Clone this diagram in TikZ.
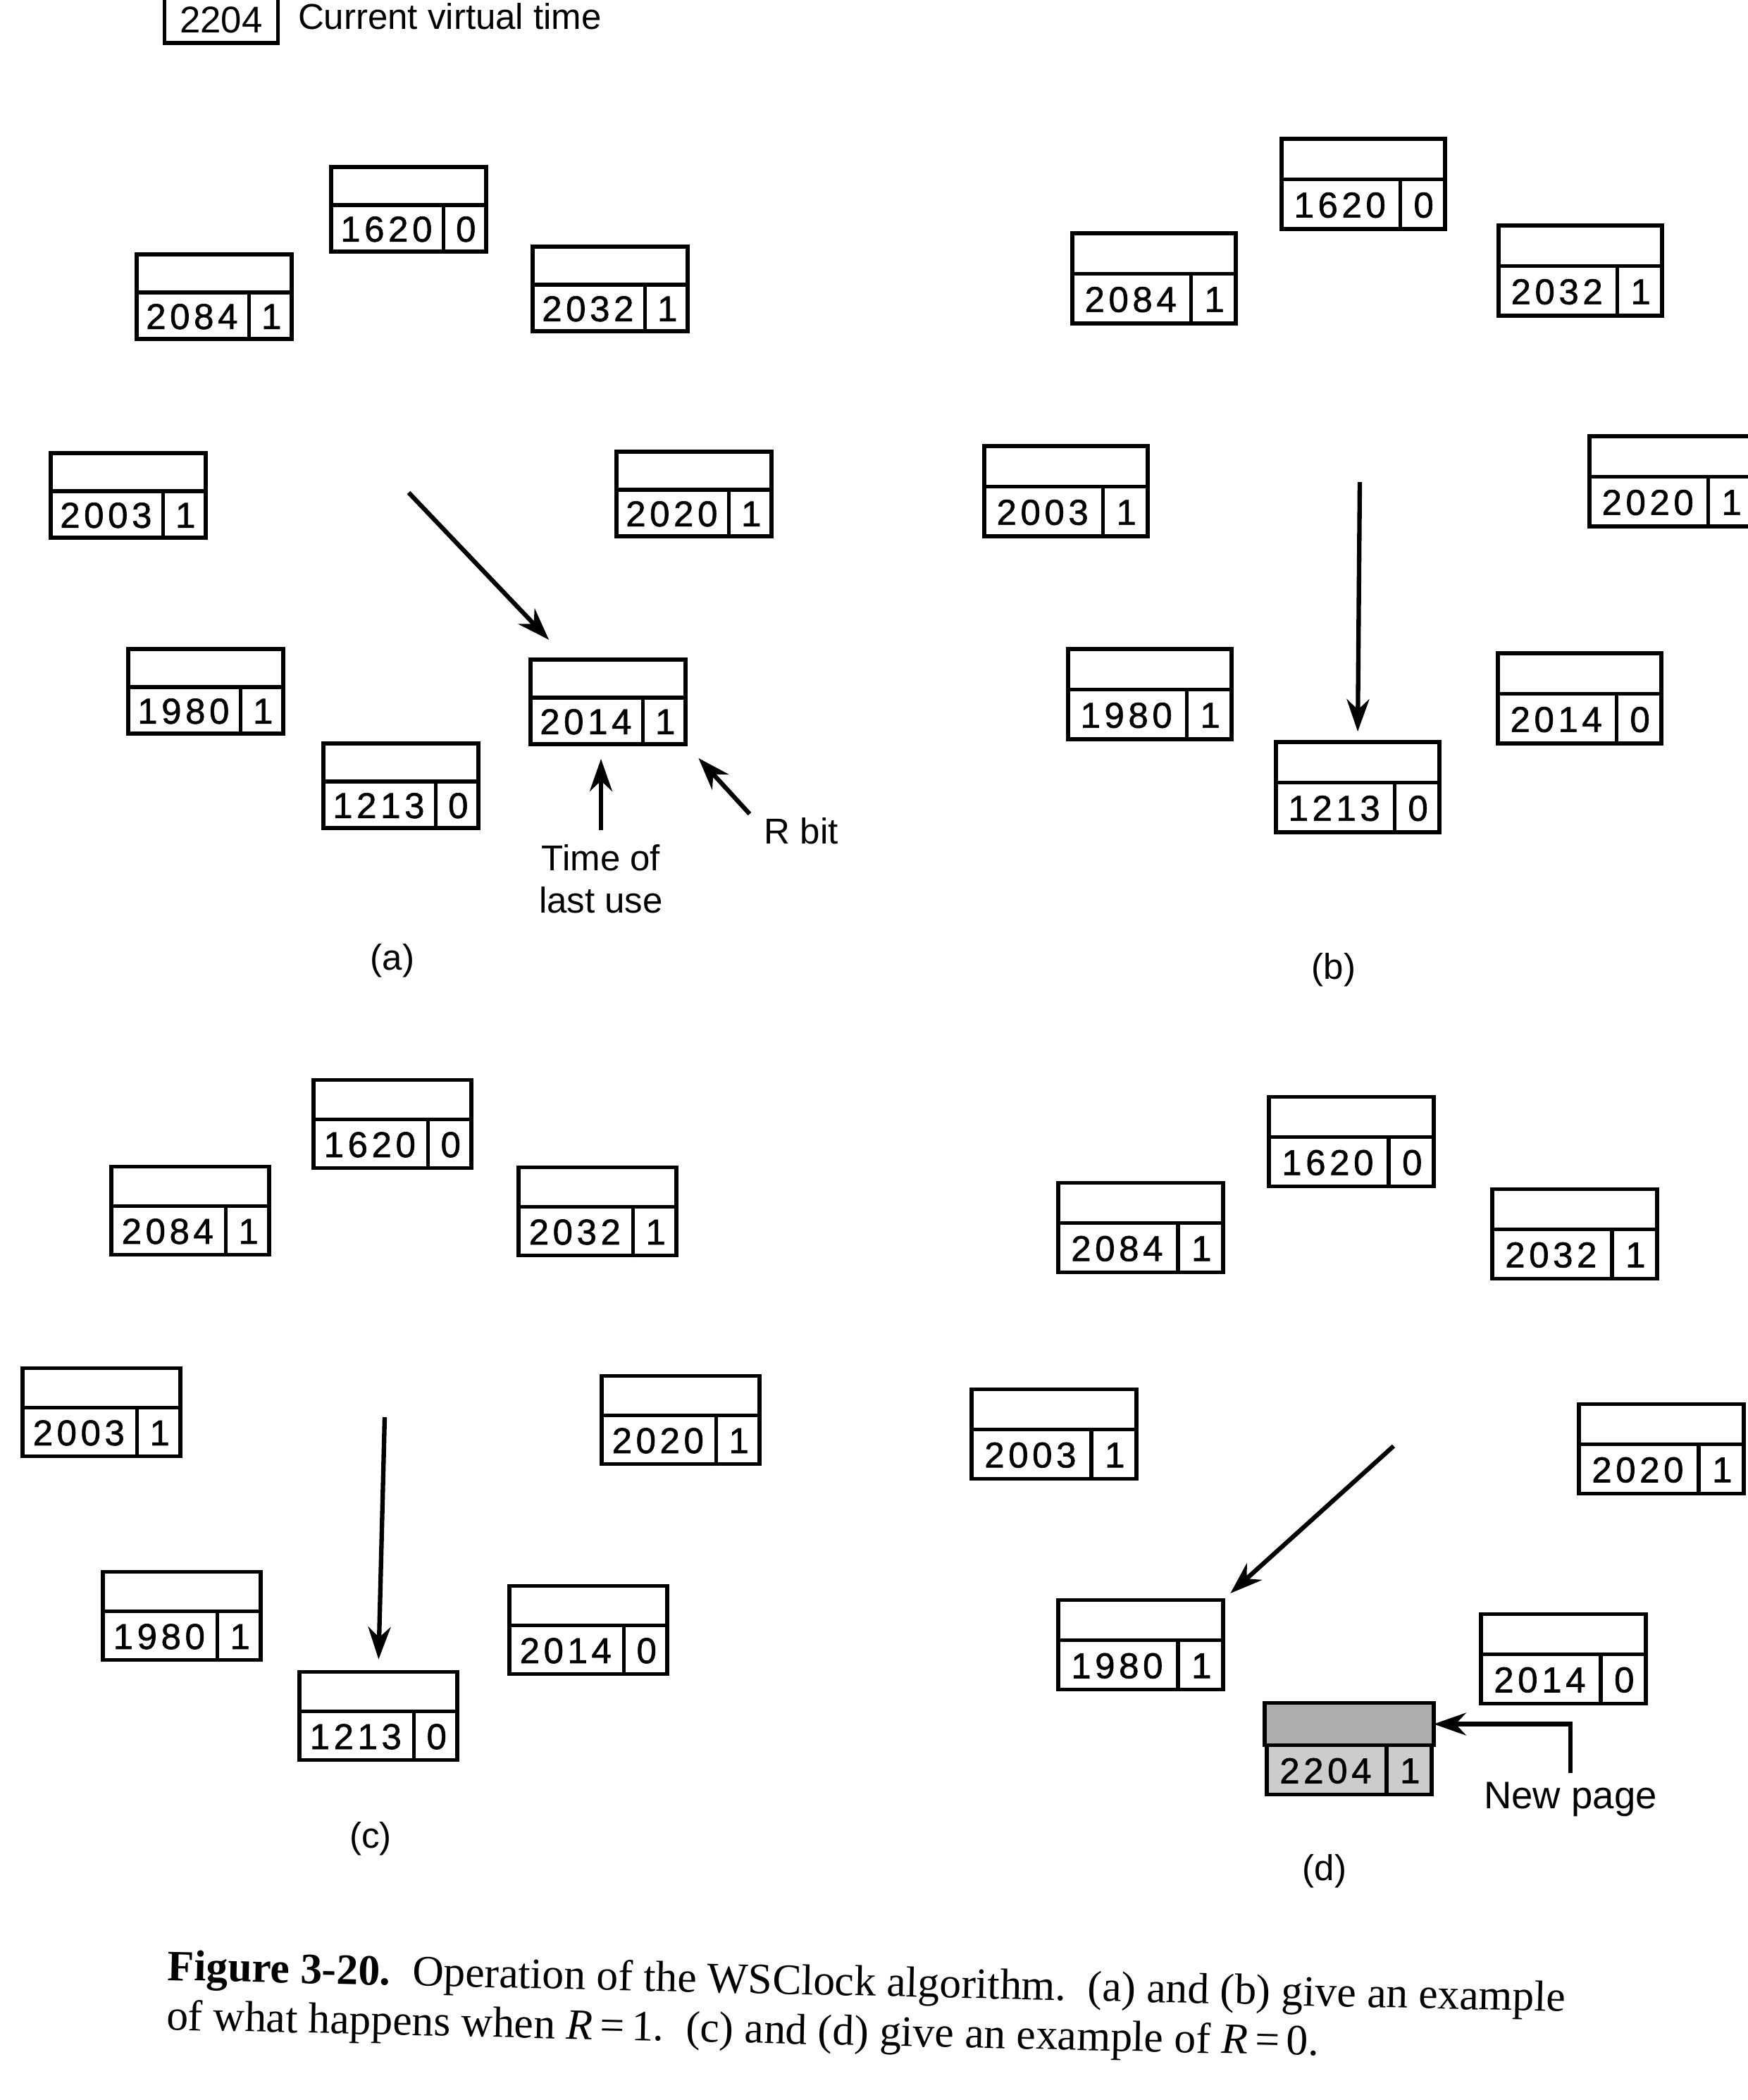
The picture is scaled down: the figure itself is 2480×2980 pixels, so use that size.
\documentclass[tikz,border=0pt]{standalone}
\usepackage{fontspec}
\setmainfont{Liberation Serif}
\setsansfont{Liberation Sans}
\newfontfamily\digitfont[LetterSpace=11, FakeBold=1.2]{Liberation Sans}
\usetikzlibrary{arrows.meta,calc,positioning}

\tikzset{
  pframe/.style={draw, line width=1.6pt, inner sep=0pt, minimum width=2.2cm, minimum height=1.2cm},
  pline/.style={line width=1.6pt},
  digits/.style={font=\digitfont\fontsize{14.5}{15}\selectfont, inner sep=0pt},
  lbl/.style={font=\sffamily\fontsize{14.5}{17}\selectfont, align=center, inner sep=0pt},
  hand/.style={line width=1.8pt, -{Stealth[length=0.46cm, width=0.32cm]}},
}

% one page frame: time of last use and R bit in the lower row
\newcommand\wsbox[5][]{%
  \node[pframe,#1] (#2) at (#3) {};
  \coordinate (#2l) at ($(#2.north west)!0.45!(#2.south west)$);
  \coordinate (#2r) at ($(#2.north east)!0.45!(#2.south east)$);
  \coordinate (#2m) at ($(#2.south west)!0.72!(#2.south east)$);
  \draw[pline] (#2l) -- (#2r);
  \draw[pline] (#2m) -- (#2m |- #2l);
  \node[digits] (#2t) at ($(#2l)!0.5!(#2m)$) {#4};
  \node[digits] (#2b) at ($(#2r)!0.5!(#2m)$) {#5};
}

\begin{document}
\begin{tikzpicture}[x=0.01cm, y=-0.01cm]
\useasboundingbox[fill=white] (0,0) rectangle (2480,2980);

% (a)
\node[pframe, lbl, font=\sffamily\fontsize{15}{15}\selectfont, minimum width=1.61cm, minimum height=0.66cm] (vt) at (314,28) {2204};
\node[lbl, right=0.25cm of vt, yshift=0.05cm] (vtlabel) {Current virtual time};
\wsbox{a1620}{580,297}{1620}{0}
\wsbox{a2084}{304,421}{2084}{1}
\wsbox{a2032}{866,410}{2032}{1}
\wsbox{a2003}{182,703}{2003}{1}
\wsbox{a2020}{985,701}{2020}{1}
\wsbox{a1980}{292,981}{1980}{1}
\wsbox{a2014}{863,996}{2014}{1}
\wsbox{a1213}{569,1115}{1213}{0}
\coordinate (ahand) at (580,699);
\draw[hand, shorten >=0.35cm] (ahand) -- (a2014);
\coordinate (tlu) at (853,1178);
\draw[hand, shorten >=0.18cm] (tlu) -- (tlu |- a2014.south);
\node[lbl, below=0.2cm of tlu] (tlulabel) {Time of\\last use};
\coordinate (rb) at (1064,1155);
\draw[hand, shorten >=0.23cm] (rb) -- (a2014.south east);
\node[lbl, below right=0.05cm and 0.2cm of rb] (rblabel) {R bit};
\node[lbl] (capa) at (557,1363) {(a)};

% (b)
\begin{scope}[pframe/.append style={minimum width=2.32cm, minimum height=1.28cm}]
\wsbox{b1620}{1935,261}{1620}{0}
\wsbox{b2084}{1638,395}{2084}{1}
\wsbox{b2032}{2243,384}{2032}{1}
\wsbox{b2003}{1513,697}{2003}{1}
\wsbox{b2020}{2372,683}{2020}{1}
\wsbox{b1980}{1632,985}{1980}{1}
\wsbox{b2014}{2242,991}{2014}{0}
\wsbox{b1213}{1927,1117}{1213}{0}
\coordinate (bhand) at (1930,684);
\draw[hand, shorten >=0.12cm] (bhand) -- (b1213.north);
\node[lbl] (capb) at (1893,1376) {(b)};
\end{scope}

% (c)
\begin{scope}[pframe/.append style={minimum width=2.24cm, minimum height=1.25cm}]
\wsbox{c1620}{557,1595}{1620}{0}
\wsbox{c2084}{270,1718}{2084}{1}
\wsbox{c2032}{848,1719}{2032}{1}
\wsbox{c2003}{144,2004}{2003}{1}
\wsbox{c2020}{966,2015}{2020}{1}
\wsbox{c1980}{258,2293}{1980}{1}
\wsbox{c2014}{835,2313}{2014}{0}
\wsbox{c1213}{537,2435}{1213}{0}
\coordinate (chand) at (546,2011);
\draw[hand, shorten >=0.15cm] (chand) -- (c1213.north);
\node[lbl] (capc) at (526,2609) {(c)};
\end{scope}

% (d)
\begin{scope}[pframe/.append style={minimum width=2.34cm, minimum height=1.27cm}]
\wsbox{d1620}{1918,1620}{1620}{0}
\wsbox{d2084}{1619,1742}{2084}{1}
\wsbox{d2032}{2235,1751}{2032}{1}
\wsbox{d2003}{1496,2035}{2003}{1}
\wsbox{d2020}{2358,2056}{2020}{1}
\wsbox{d1980}{1619,2334}{1980}{1}
\wsbox{d2014}{2219,2354}{2014}{0}
\wsbox[fill=black!20]{d2204}{1915,2483}{2204}{1}
\fill[black!32] ([shift={(2,2)}]d2204.north west) rectangle ([shift={(-2,-1)}]d2204r);
\draw[pline] (d2204.north west) rectangle (d2204r);
\coordinate (dhand) at (1978,2052);
\draw[hand, shorten >=0.1cm] (dhand) -- (d1980.north east);
\coordinate (np) at (2229,2516);
\draw[hand] (np) |- ($(d2204.north east)!0.5!(d2204r)$);
\node[lbl, font=\sffamily\fontsize{15.5}{17}\selectfont, below=0.12cm of np] (nplabel) {New page};
\node[lbl] (capd) at (1880,2655) {(d)};
\end{scope}

\node[anchor=north west, rotate=-1.28, inner sep=0pt, align=left,
  font=\rmfamily\fontsize{17.5}{20}\selectfont] (caption) at (238,2766)
  {\textbf{Figure 3-20.}\ \ Operation of the WSClock algorithm.\ \ (a) and (b) give an example\\
   of what happens when \textit{R}\,=\,1.\ \ (c) and (d) give an example of \textit{R}\,=\,0.};
\end{tikzpicture}
\end{document}
